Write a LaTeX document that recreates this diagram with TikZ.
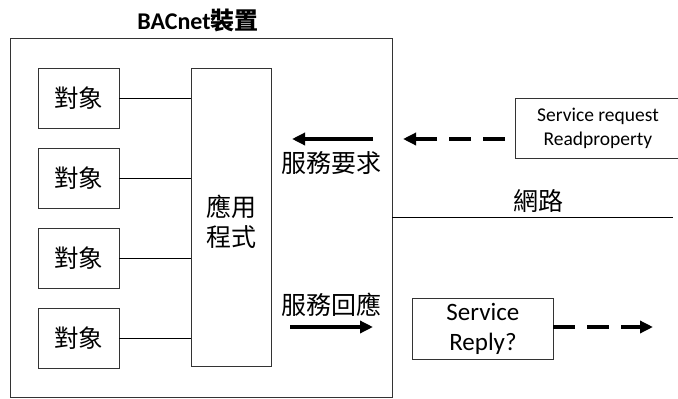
\documentclass[tikz,border=0pt]{standalone}
\usepackage{fontspec}
\setmainfont{Carlito}
\newfontfamily\cjk{Noto Sans CJK TC}
\usetikzlibrary{arrows.meta}
\begin{document}
\begin{tikzpicture}[x=1pt,y=-1pt,
  box/.style={draw=black!80,line width=0.9pt,inner sep=0pt},
  objbox/.style={box,minimum width=81pt,minimum height=60pt,font=\cjk\fontsize{24.5}{26}\selectfont},
  conn/.style={line width=0.8pt},
  bigarrow/.style={line width=3.5pt,-{Triangle[length=13pt,width=12pt]}},
  dasharrow/.style={line width=3.5pt,dash pattern=on 22pt off 12pt,-{Triangle[length=13pt,width=12pt]}},
  lbl/.style={font=\cjk\fontsize{25}{30}\selectfont,inner sep=0pt}]
\useasboundingbox (0,0) rectangle (678,399);
\node[font=\bfseries\fontsize{24}{26}\selectfont] (title) at (198,20) {BACnet{\cjk\bfseries 裝置}};
\node[box,minimum width=382pt,minimum height=359pt,anchor=north west] (dev) at (10,38) {};
\node[objbox] (o1) at (78.5,98) {對象};
\node[objbox] (o2) at (78.5,178) {對象};
\node[objbox] (o3) at (78.5,258) {對象};
\node[objbox] (o4) at (78.5,338) {對象};
\node[box,minimum width=80pt,minimum height=298pt,anchor=north west] (app) at (191,68) {};
\node[lbl,align=center] (apptxt) at (231,222) {應用\\程式};
\foreach \i/\y in {1/98,2/178,3/258,4/338}{
  \coordinate (a\i) at (191,\y);
  \draw[conn] (o\i.east) -- (a\i);
}
\coordinate (rqs) at (373,139);
\coordinate (rqe) at (292,139);
\draw[bigarrow] (rqs) -- (rqe);
\node[lbl] (rqtxt) at (331,163) {服務要求};
\node[lbl] (rptxt) at (331,305) {服務回應};
\coordinate (rps) at (290,327);
\coordinate (rpe) at (373,327);
\draw[bigarrow] (rps) -- (rpe);
\coordinate (netl) at (392,217);
\coordinate (netr) at (673,217);
\draw[conn] (netl) -- (netr);
\node[lbl] (net) at (538,201) {網路};
\node[box,minimum width=165pt,minimum height=60pt,anchor=north west,align=center,font=\fontsize{19.5}{24}\selectfont] (sreq) at (515,98) {Service request\\Readproperty};
\coordinate (sreqstart) at (505,139);
\coordinate (sreqend) at (403,139);
\draw[dasharrow] (sreqstart) -- (sreqend);
\node[box,minimum width=141pt,minimum height=61pt,anchor=north west,align=center,font=\fontsize{25}{30}\selectfont] (srep) at (412,298) {Service\\Reply?};
\coordinate (srepstart) at (553,327);
\coordinate (srepend) at (653,327);
\draw[dasharrow] (srepstart) -- (srepend);
\end{tikzpicture}
\end{document}
